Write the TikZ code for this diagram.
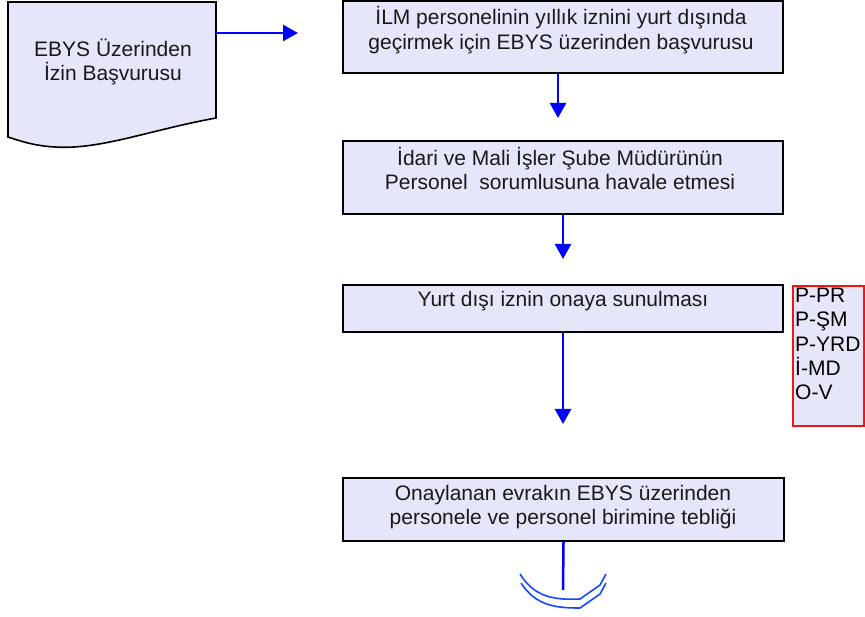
\documentclass[tikz,border=0pt]{standalone}
\usepackage{fontspec}
\setmainfont{Liberation Sans}
\usetikzlibrary{arrows.meta}
\definecolor{boxfill}{RGB}{230,230,250}
\definecolor{flowblue}{RGB}{0,0,255}
\definecolor{endblue}{RGB}{20,70,255}
\definecolor{redline}{RGB}{240,20,20}
\tikzset{
  procbox/.style={draw=black, line width=2pt, fill=boxfill, inner sep=0pt},
  txt/.style={font=\fontsize{21}{24.5}\selectfont, align=center, inner sep=0pt, text=black!90},
  flow/.style={draw=flowblue, line width=2.5pt, -{Triangle[width=16pt,length=15pt]}},
}
\begin{document}
\begin{tikzpicture}[x=1pt,y=-1pt]
\useasboundingbox (0,0) rectangle (865,617);
% document shape
\draw[line width=1.6pt, fill=boxfill] (8,2) -- (216,2) -- (216,118)
  .. controls (150,130) and (100,150) .. (55,147)
  .. controls (35,146) and (20,141) .. (8,137) -- cycle;
\coordinate (docout) at (216,33);
\node[txt] (tdoc) at (113,62) {EBYS Üzerinden\\İzin Başvurusu};
\coordinate (arrend) at (298,33);
% boxes
\node[procbox, minimum width=440pt, minimum height=72pt] (b1) at (563,37) {};
\node[txt] (t1) at (561,30) {İLM personelinin yıllık iznini yurt dışında\\geçirmek için EBYS üzerinden başvurusu};
\node[procbox, minimum width=440pt, minimum height=73pt] (b2) at (563,177.5) {};
\node[txt] (t2) at (560,168.5) {İdari ve Mali İşler Şube Müdürünün\\Personel\ \ sorumlusuna havale etmesi};
\node[procbox, minimum width=440pt, minimum height=47pt] (b3) at (563,308.5) {};
\node[txt] (t3) at (563,301) {Yurt dışı iznin onaya sunulması};
\node[procbox, minimum width=441pt, minimum height=63pt] (b4) at (563.5,509.5) {};
\node[txt] (t4) at (563,507) {Onaylanan evrakın EBYS üzerinden\\personele ve personel birimine tebliği};
% red box
\node[draw=redline, line width=1.5pt, fill=boxfill, minimum width=71pt, minimum height=140pt, inner sep=0pt] (rb) at (828.5,356) {};
\node[font=\fontsize{21}{24.2}\selectfont, align=left, inner sep=0pt, anchor=north west] (rt) at (795,288) {P-PR\\P-ŞM\\P-YRD\\İ-MD\\O-V};
% connector end points
\coordinate (a1end) at (558,118);
\coordinate (a2end) at (563,259);
\coordinate (a3end) at (563,424);
\coordinate (endpt) at (563,590);
% connectors
\draw[flow] (docout) -- (arrend);
\draw[flow] (b1.south -| a1end) -- (a1end);
\draw[flow] (b2.south) -- (a2end);
\draw[flow] (b3.south) -- (a3end);
\draw[draw=flowblue, line width=2.5pt] (b4.south) -- (endpt);
% off-page terminator
\draw[endblue, line width=1.6pt, line join=round] (520,574) .. controls (535,598) and (555,600) .. (580,599) -- (600,585) -- (606,574);
\draw[endblue, line width=1.6pt, line join=round] (521,583) .. controls (536,606) and (556,608) .. (580,608) -- (600,594) -- (606,583);
\end{tikzpicture}
\end{document}
